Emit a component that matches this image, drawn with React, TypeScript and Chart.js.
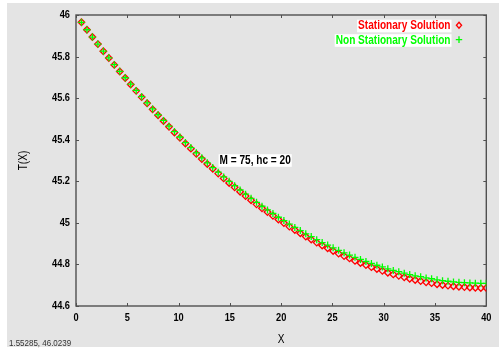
import React, { useEffect, useRef } from 'react';
import { Chart, registerables } from 'chart.js';

Chart.register(...registerables);

// ---- data ----
const xPositions = [
  0.533, 1.067, 1.6, 2.133, 2.667, 3.2, 3.733, 4.267, 4.8, 5.333,
  5.867, 6.4, 6.933, 7.467, 8, 8.533, 9.067, 9.6, 10.133, 10.667,
  11.2, 11.733, 12.267, 12.8, 13.333, 13.867, 14.4, 14.933, 15.467, 16,
  16.533, 17.067, 17.6, 18.133, 18.667, 19.2, 19.733, 20.267, 20.8, 21.333,
  21.867, 22.4, 22.933, 23.467, 24, 24.533, 25.067, 25.6, 26.133, 26.667,
  27.2, 27.733, 28.267, 28.8, 29.333, 29.867, 30.4, 30.933, 31.467, 32,
  32.533, 33.067, 33.6, 34.133, 34.667, 35.2, 35.733, 36.267, 36.8, 37.333,
  37.867, 38.4, 38.933, 39.467, 40,
];

const stationaryValues = [
  45.965, 45.929, 45.894, 45.86, 45.826, 45.793, 45.76, 45.728, 45.697, 45.666,
  45.635, 45.605, 45.575, 45.546, 45.518, 45.49, 45.462, 45.435, 45.409, 45.382,
  45.357, 45.332, 45.307, 45.283, 45.26, 45.237, 45.214, 45.192, 45.171, 45.15,
  45.129, 45.109, 45.089, 45.07, 45.052, 45.034, 45.016, 44.999, 44.982, 44.966,
  44.95, 44.934, 44.92, 44.905, 44.891, 44.878, 44.865, 44.852, 44.84, 44.829,
  44.817, 44.807, 44.797, 44.787, 44.778, 44.769, 44.76, 44.752, 44.745, 44.738,
  44.731, 44.725, 44.72, 44.714, 44.71, 44.705, 44.701, 44.698, 44.695, 44.693,
  44.691, 44.689, 44.688, 44.687, 44.687,
];

const nonStationaryValues = [
  45.965, 45.929, 45.894, 45.86, 45.826, 45.794, 45.761, 45.729, 45.698, 45.667,
  45.637, 45.607, 45.577, 45.548, 45.52, 45.493, 45.465, 45.439, 45.413, 45.386,
  45.362, 45.337, 45.313, 45.289, 45.266, 45.244, 45.221, 45.2, 45.179, 45.158,
  45.138, 45.118, 45.099, 45.08, 45.062, 45.045, 45.027, 45.011, 44.994, 44.978,
  44.963, 44.947, 44.934, 44.919, 44.905, 44.893, 44.88, 44.868, 44.856, 44.845,
  44.834, 44.824, 44.814, 44.805, 44.796, 44.788, 44.779, 44.771, 44.765, 44.758,
  44.751, 44.745, 44.741, 44.735, 44.731, 44.726, 44.722, 44.719, 44.716, 44.714,
  44.712, 44.711, 44.71, 44.709, 44.709,
];

const seriesLabels = ['Stationary Solution', 'Non Stationary Solution'];
const xTickValues = [0, 5, 10, 15, 20, 25, 30, 35, 40];
const yTickValues = [44.6, 44.8, 45, 45.2, 45.4, 45.6, 45.8, 46];
const xTickLabels = ['0', '5', '10', '15', '20', '25', '30', '35', '40'];
const yTickLabels = ['44.6', '44.8', '45', '45.2', '45.4', '45.6', '45.8', '46'];
const xAxisTitle = 'X';
const yAxisTitle = 'T(X)';
const annotationText = 'M = 75, hc = 20';
const annotationX = 14;
const annotationY = 45.3;
const cornerText = '1.55285, 46.0239';

// ---- styles ----
const W = 502;
const H = 348;
const FONT_FAMILY = "'Liberation Sans', Arial, sans-serif";
const SX = 0.84; // horizontal condensing of the text
const RED = '#ff0000';
const GREEN = '#00ff00';
const BG = '#e4e4e4';
const AXIS = '#505050';

const toPts = (ys: number[]) => ys.map((y, i) => ({ x: xPositions[i], y }));

function drawText(
  ctx: CanvasRenderingContext2D,
  text: string,
  x: number,
  y: number,
  align: CanvasTextAlign,
  font: string,
  color: string,
  rotate = 0,
) {
  ctx.save();
  ctx.font = font;
  ctx.fillStyle = color;
  ctx.textAlign = align;
  ctx.textBaseline = 'middle';
  ctx.translate(x, y);
  if (rotate) ctx.rotate(rotate);
  ctx.scale(SX, 1);
  ctx.fillText(text, 0, 0);
  ctx.restore();
}

function textWidth(ctx: CanvasRenderingContext2D, text: string, font: string) {
  ctx.save();
  ctx.font = font;
  const w = ctx.measureText(text).width * SX;
  ctx.restore();
  return w;
}

const decorPlugin = {
  id: 'decor',
  beforeDraw(chart: any) {
    const ctx = chart.ctx;
    ctx.save();
    ctx.fillStyle = '#ffffff';
    ctx.fillRect(0, 0, W, H);
    ctx.fillStyle = BG;
    ctx.fillRect(7, 3, 492, 344);
    ctx.restore();
  },
  beforeDatasetsDraw(chart: any) {
    const ctx = chart.ctx;
    const { left, right, top, bottom } = chart.chartArea;
    const xs = chart.scales.x;
    const ys = chart.scales.y;
    ctx.save();
    ctx.strokeStyle = AXIS;
    ctx.lineWidth = 1;
    ctx.beginPath();
    for (const t of xs.ticks) {
      const px = Math.round(xs.getPixelForValue(t.value)) + 0.5;
      ctx.moveTo(px, bottom);
      ctx.lineTo(px, bottom - 3);
      ctx.moveTo(px, top);
      ctx.lineTo(px, top + 3);
    }
    for (const t of ys.ticks) {
      const py = Math.round(ys.getPixelForValue(t.value)) + 0.5;
      ctx.moveTo(left, py);
      ctx.lineTo(left + 3, py);
      ctx.moveTo(right, py);
      ctx.lineTo(right - 3, py);
    }
    ctx.stroke();
    ctx.lineWidth = 1.4;
    ctx.strokeRect(left, top, right - left, bottom - top);
    ctx.restore();

    // tick labels
    const tickFont = `bold 11px ${FONT_FAMILY}`;
    xs.ticks.forEach((t: any, i: number) => {
      drawText(ctx, xTickLabels[i], xs.getPixelForValue(t.value), 318, 'center', tickFont, '#000000');
    });
    ys.ticks.forEach((t: any, i: number) => {
      drawText(ctx, yTickLabels[i], 70, ys.getPixelForValue(t.value), 'right', tickFont, '#000000');
    });

    // axis titles
    const titleFont = `12px ${FONT_FAMILY}`;
    drawText(ctx, xAxisTitle, (left + right) / 2, 340, 'center', titleFont, '#000000');
    drawText(ctx, yAxisTitle, 24, (top + bottom) / 2, 'center', titleFont, '#000000', -Math.PI / 2);
  },
  afterDraw(chart: any) {
    const ctx = chart.ctx;
    const xs = chart.scales.x;
    const ys = chart.scales.y;
    const font = `bold 12px ${FONT_FAMILY}`;

    // legend (right aligned text, marker to the right)
    const textRight = 450.5;
    const rows = [
      { label: chart.data.datasets[0].label, color: RED, y: 26, kind: 'diamond' },
      { label: chart.data.datasets[1].label, color: GREEN, y: 40.5, kind: 'plus' },
    ];
    for (const r of rows) {
      const w = textWidth(ctx, r.label, font);
      ctx.save();
      ctx.fillStyle = '#ffffff';
      ctx.fillRect(textRight - w - 1, r.y - 6.3, w + 2, 12.6);
      ctx.restore();
      drawText(ctx, r.label, textRight, r.y, 'right', font, r.color);
      const mx = 459;
      const my = r.y - 0.8;
      ctx.save();
      ctx.strokeStyle = r.color;
      ctx.lineWidth = 1.3;
      ctx.beginPath();
      if (r.kind === 'diamond') {
        ctx.moveTo(mx, my - 3);
        ctx.lineTo(mx + 2.6, my);
        ctx.lineTo(mx, my + 3);
        ctx.lineTo(mx - 2.6, my);
        ctx.closePath();
      } else {
        ctx.moveTo(mx - 3.2, my);
        ctx.lineTo(mx + 3.2, my);
        ctx.moveTo(mx, my - 3.4);
        ctx.lineTo(mx, my + 3.4);
      }
      ctx.stroke();
      ctx.restore();
    }

    // annotation label
    const ax = xs.getPixelForValue(annotationX);
    const ay = ys.getPixelForValue(annotationY);
    const aw = textWidth(ctx, annotationText, font);
    ctx.save();
    ctx.fillStyle = '#ffffff';
    ctx.fillRect(ax - 1, ay - 6.3, aw + 2, 12.6);
    ctx.restore();
    drawText(ctx, annotationText, ax, ay, 'left', font, '#000000');

    // corner coordinates text
    drawText(ctx, cornerText, 9, 343, 'left', `9.5px ${FONT_FAMILY}`, '#333333');
  },
};

export default function App() {
  const canvasRef = useRef<HTMLCanvasElement | null>(null);

  useEffect(() => {
    const canvas = canvasRef.current;
    if (!canvas) return;
    const chart = new Chart(canvas, {
      type: 'scatter',
      data: {
        datasets: [
          {
            label: seriesLabels[0],
            data: toPts(stationaryValues),
            showLine: false,
            pointStyle: 'rectRot',
            pointRadius: 3.3,
            pointBorderColor: RED,
            pointBackgroundColor: 'rgba(0,0,0,0)',
            pointBorderWidth: 1.3,
            order: 2,
          },
          {
            label: seriesLabels[1],
            data: toPts(nonStationaryValues),
            showLine: false,
            pointStyle: 'cross',
            pointRadius: 3.5,
            pointBorderColor: GREEN,
            pointBackgroundColor: GREEN,
            pointBorderWidth: 1.3,
            order: 1,
          },
        ],
      },
      options: {
        responsive: false,
        animation: false,
        devicePixelRatio: 1,
        events: [],
        layout: { padding: { left: 0, top: 15, right: 15.7, bottom: 0 } },
        plugins: {
          legend: { display: false },
          tooltip: { enabled: false },
        },
        scales: {
          x: {
            type: 'linear',
            min: 0,
            max: 40,
            afterBuildTicks: (s: any) => {
              s.ticks = xTickValues.map((v) => ({ value: v }));
            },
            afterFit: (s: any) => {
              s.height = 42;
            },
            grid: { display: false, drawTicks: false },
            border: { display: false },
            ticks: { display: false },
            title: { display: false },
          },
          y: {
            type: 'linear',
            min: 44.6,
            max: 46,
            afterBuildTicks: (s: any) => {
              s.ticks = yTickValues.map((v) => ({ value: v }));
            },
            afterFit: (s: any) => {
              s.width = 76;
            },
            grid: { display: false, drawTicks: false },
            border: { display: false },
            ticks: { display: false },
            title: { display: false },
          },
        },
      },
      plugins: [decorPlugin],
    });
    return () => chart.destroy();
  }, []);

  return (
    <div style={{ position: 'fixed', left: 0, top: 0, width: W, height: H }}>
      <canvas ref={canvasRef} width={W} height={H} style={{ display: 'block', width: W, height: H }} />
    </div>
  );
}
